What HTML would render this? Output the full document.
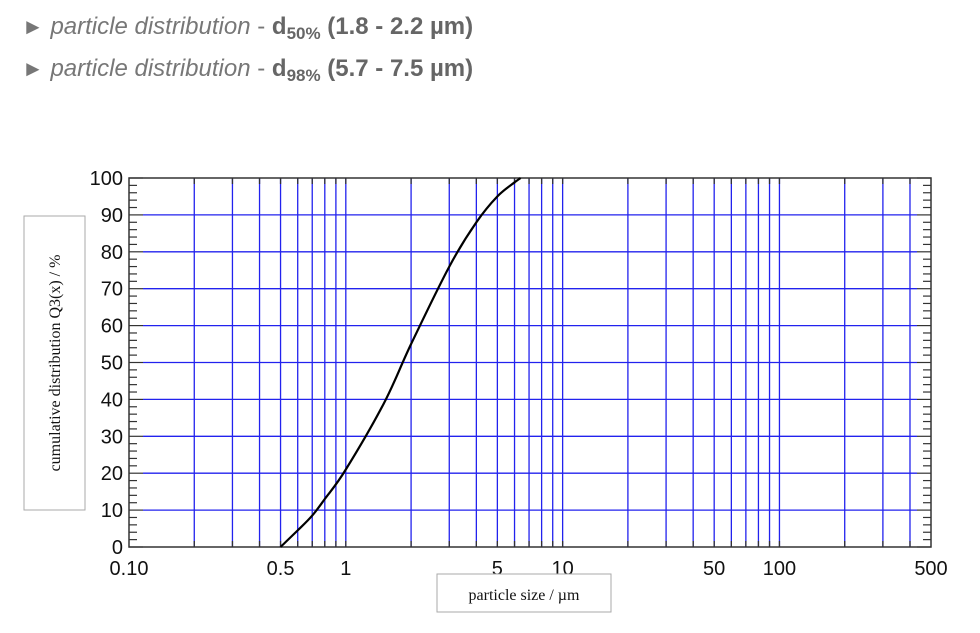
<!DOCTYPE html>
<html><head><meta charset="utf-8"><style>
body{margin:0;background:#fff;width:980px;height:633px;overflow:hidden;position:relative;font-family:"Liberation Sans",sans-serif}
.line{position:absolute;left:22px;font-size:24px;color:#777;white-space:nowrap}
.line i{font-style:italic}
.line b{color:#666}
.line sub{font-size:17px;vertical-align:-5px}
.tri{font-size:22px;color:#777}
</style></head><body>
<div class="line" style="top:13px"><span class="tri">►</span> <i>particle distribution</i> - <b>d<sub>50%</sub> (1.8 - 2.2 µm)</b></div>
<div class="line" style="top:55px"><span class="tri">►</span> <i>particle distribution</i> - <b>d<sub>98%</sub> (5.7 - 7.5 µm)</b></div>
<svg id="chart" width="980" height="633" style="position:absolute;left:0;top:0"></svg>
<script>
const xs=[0.5,0.6,0.7,0.8,1,1.5,2,3,4,5,6,6.4];
const ys=[0,4.5,8.5,13,21,39,55,76,88,95,98.8,100];
const yTicks=[0,10,20,30,40,50,60,70,80,90,100];
const xTickLabels=["0.10","0.5","1","5","10","50","100","500"];
const xTickVals=[0.1,0.5,1,5,10,50,100,500];
const gridX=[0.2,0.3,0.4,0.5,0.6,0.7,0.8,0.9,1,2,3,4,5,6,7,8,9,10,20,30,40,50,60,70,80,90,100,200,300,400];
const L=129,R=931,T=178,B=547;
const X=v=>L+(Math.log10(v)-Math.log10(0.1))/(Math.log10(500)-Math.log10(0.1))*(R-L);
const Y=v=>B-v/100*(B-T);
const svg=document.getElementById('chart');const NS='http://www.w3.org/2000/svg';
function mk(t,a){const e=document.createElementNS(NS,t);for(const k in a)e.setAttribute(k,a[k]);svg.appendChild(e);return e;}
yTicks.forEach(v=>{if(v>0&&v<100){const e=mk('line',{x1:L+14,x2:R-14,y1:Y(v),y2:Y(v),stroke:'#2222ee','stroke-width':1.3});

}});
gridX.forEach(v=>{const e=mk('line',{x1:X(v),x2:X(v),y1:T,y2:B,stroke:'#2222ee','stroke-width':1.3});


mk('line',{x1:X(v),x2:X(v),y1:T,y2:T+6,stroke:'#333','stroke-width':1.3});
mk('line',{x1:X(v),x2:X(v),y1:B-6,y2:B,stroke:'#333','stroke-width':1.3});});
for(let v=0;v<=100;v+=2){const len=v%10===0?14:8;
mk('line',{x1:L,x2:L+len,y1:Y(v),y2:Y(v),stroke:'#333','stroke-width':1.2});
mk('line',{x1:R-len,x2:R,y1:Y(v),y2:Y(v),stroke:'#333','stroke-width':1.2});}
const fr=mk('rect',{x:L,y:T,width:R-L,height:B-T,fill:'none',stroke:'#333','stroke-width':1.5});


yTicks.forEach(v=>{const t=mk('text',{x:L-6,y:Y(v)+7,'text-anchor':'end','font-size':20,'font-family':'Liberation Sans, sans-serif',fill:'#111'});t.textContent=v;

});
xTickVals.forEach((v,i)=>{const t=mk('text',{x:X(v),y:575,'text-anchor':'middle','font-size':20,'font-family':'Liberation Sans, sans-serif',fill:'#111'});t.textContent=xTickLabels[i];

});
const pts=xs.map((x,i)=>[X(x),Y(ys[i])]);
let d='M'+pts[0][0].toFixed(1)+','+pts[0][1].toFixed(1);
for(let i=0;i<pts.length-1;i++){const p0=pts[Math.max(0,i-1)],p1=pts[i],p2=pts[i+1],p3=pts[Math.min(pts.length-1,i+2)];
const c1=[p1[0]+(p2[0]-p0[0])/6,p1[1]+(p2[1]-p0[1])/6],c2=[p2[0]-(p3[0]-p1[0])/6,p2[1]-(p3[1]-p1[1])/6];
d+='C'+c1.map(n=>n.toFixed(1)).join(',')+' '+c2.map(n=>n.toFixed(1)).join(',')+' '+p2.map(n=>n.toFixed(1)).join(',');}
const p=mk('path',{d:d,fill:'none',stroke:'#000','stroke-width':2.2,'stroke-linejoin':'round'});


mk('rect',{x:24,y:216,width:61,height:294,fill:'#fff',stroke:'#aaa','stroke-width':1});
const yl=mk('text',{transform:'translate(60,363) rotate(-90)','text-anchor':'middle','font-size':16,'font-family':'Liberation Serif, serif',fill:'#111'});yl.textContent='cumulative distribution Q3(x) / %';


mk('rect',{x:437,y:574,width:174,height:38,fill:'#fff',stroke:'#aaa','stroke-width':1});
const xl=mk('text',{x:524,y:600,'text-anchor':'middle','font-size':16,'font-family':'Liberation Serif, serif',fill:'#111'});xl.textContent='particle size /  µm';


</script>
</body></html>
